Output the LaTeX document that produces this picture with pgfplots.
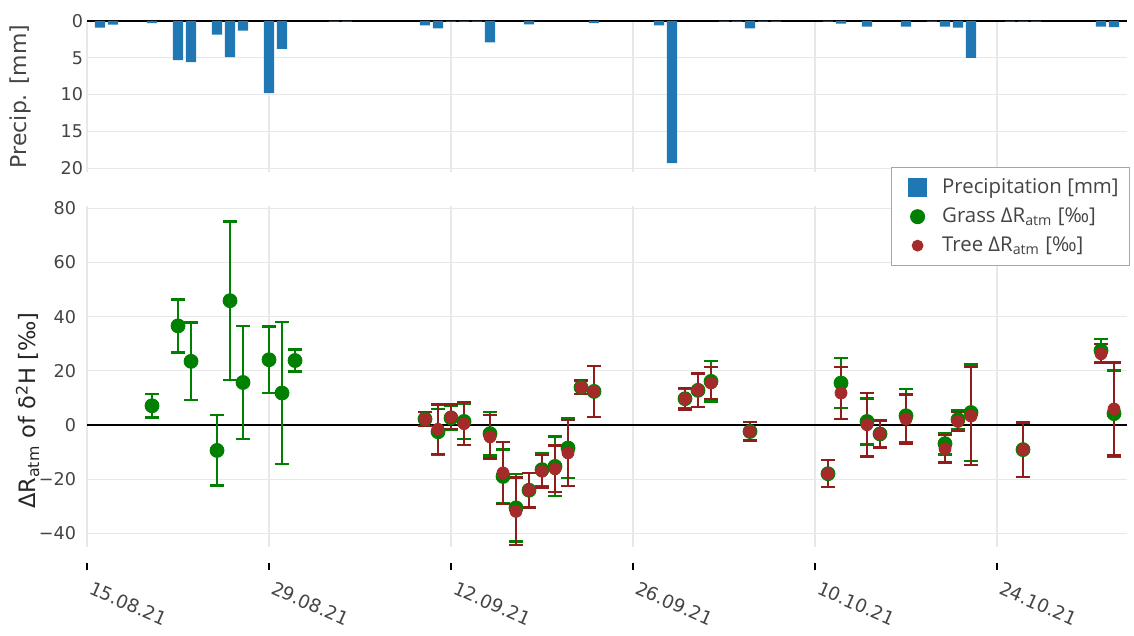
\documentclass[border=0pt]{standalone}
\usepackage{fontspec}
\setmainfont{DejaVu Sans}
\newfontfamily\legfont{Open Sans}
\usepackage{pgfplots}
\pgfplotsset{compat=1.18}
\usepackage{pgfplotstable}
\definecolor{precblue}{HTML}{1F77B4}
\definecolor{grassgreen}{HTML}{008000}
\definecolor{treered}{HTML}{A52A2A}
\definecolor{treeerr}{HTML}{901C1C}
\definecolor{ticktext}{HTML}{444444}
\definecolor{gridcol}{HTML}{E8E8E8}

\pgfplotstableread{
d p
1 0.9
2 0.5
5 0.3
7 5.3
8 5.6
10 1.85
11 4.9
12 1.3
14 9.8
15 3.8
19 0.1
20 0.1
26 0.6
27 1.0
28 0.1
29 0.1
30 0.1
31 2.9
34 0.45
39 0.3
44 0.6
45 19.3
49 0.1
50 0.1
51 1.0
52 0.1
53 0.1
57 0.1
58 0.35
60 0.75
63 0.75
65 0.1
66 0.75
67 0.9
68 5.0
71 0.1
72 0.1
73 0.1
78 0.75
79 0.85
}\precip

\pgfplotstableread{
d y e
5 7.1 4.3
7 36.6 9.8
8 23.5 14.3
10 -9.4 13
11 45.9 29.2
12 15.7 20.9
14 24.1 12.2
15 11.8 26.3
16 23.8 4.1
26 2.2 2.5
27 -2.5 8.4
28 2.6 4.5
29 1.3 6.5
31 -3.2 8.0
32 -19 10
33 -30.6 12.5
34 -24.1 6.4
35 -16.5 6
36 -15.3 11
37 -8.5 11
38 13.9 2.5
39 12.4 9.4
46 9.7 3.5
47 12.8 6.2
48 16.1 7.5
51 -2.4 3.4
57 -18 5
58 15.5 9.2
60 1.3 8.5
61 -3.3 5
63 3.4 9.9
66 -6.9 4
67 2.0 3.5
68 4.6 17.8
72 -9.1 10
78 27.5 4.2
79 4.2 15.9
}\grass

\pgfplotstableread{
d y e
26 2.2 2.5
27 -1.6 9.1
28 3.0 4.5
29 0.5 8
31 -4.4 8
32 -17.7 11.5
33 -31.9 12.5
34 -24.1 6.4
35 -17.1 6
36 -16.2 8.6
37 -10.3 12.2
38 13.9 2.5
39 12.4 9.4
46 9.7 4
47 12.8 6.2
48 15.5 5.9
51 -2.4 3.4
57 -18 5
58 11.8 9.6
60 0.1 11.7
61 -3.3 5
63 2.2 9
66 -8.8 5
67 1.3 3.5
68 3.3 18.1
72 -9.1 10
78 26.3 3.5
79 5.9 17.2
}\tree

\begin{document}
\begin{tikzpicture}
\pgfplotsset{
  base/.style={
    scale only axis, width=520.4pt, xmin=0, xmax=80,
    axis line style={draw=none},
    xtick={0,14,28,42,56,70},
    grid=major, major grid style={gridcol, line width=0.6pt},
    ytick style={draw=none},
    tick label style={font=\fontsize{8.8}{10}\selectfont, text=ticktext},
    yticklabel style={xshift=1.5pt},
    extra y ticks={0}, extra y tick labels={},
    extra y tick style={grid=major, major grid style={black, line width=0.8pt}, ytick style={draw=none}},
  }
}
\begin{axis}[base, at={(43.55pt,-10.5pt)}, anchor=north west, height=75.5pt,
  y dir=reverse, ymin=0, ymax=20.5, ytick={0,5,10,15,20},
  yticklabels={0,5,10,15,20},
  xticklabels={}, xtick style={draw=none},
  ybar, bar width=0.8,
  ylabel={Precip. [mm]},
  ylabel style={at={(rel axis cs:-0.0645,0.5)}, anchor=center, font=\fontsize{11}{12}\selectfont, text=ticktext},
]
\addplot[fill=precblue, draw=none] table[x=d,y=p]{\precip};
\end{axis}

\begin{axis}[base, at={(43.55pt,-102.9pt)}, anchor=north west, height=171pt,
  ymin=-45.2, ymax=81, ytick={-40,-20,0,20,40,60,80},
  yticklabels={−40,−20,0,20,40,60,80},
  xticklabels={15.08.21,29.08.21,12.09.21,26.09.21,10.10.21,24.10.21},
  xtick pos=left, tick align=outside, major tick length=3.5pt,
  xtick style={draw=black, line width=0.7pt, yshift=-8pt},
  xticklabel style={xshift=1.5pt, yshift=-8.5pt, rotate=-24, anchor=north west, font=\fontsize{9.2}{10}\selectfont},
  ylabel={ΔR\textsubscript{atm} of δ\textsuperscript{2}H [‰]},
  ylabel style={at={(rel axis cs:-0.057,0.40)}, anchor=center, font=\fontsize{11.3}{12}\selectfont, text=black!85},
  legend image code/.code={\path[draw=none] (0pt,0pt) -- (16.5pt,0pt); \draw[only marks,#1] plot coordinates {(11pt,0pt)};},
  legend style={at={(rel axis cs:1.003,1.112)}, anchor=north east, draw=gray!70, line width=0.5pt, fill=white,
    font=\legfont\fontsize{10.2}{11}\selectfont, text=ticktext, row sep=2.4pt, column sep=3.6pt,
    inner xsep=2.3pt, inner ysep=3.8pt,
    nodes={inner ysep=1.6pt, inner xsep=3.2pt}, cells={anchor=west}},
]
\addplot[only marks, mark=*, mark size=3.5pt, color=grassgreen, forget plot,
  error bars/.cd, y dir=both, y explicit,
  error bar style={line width=1.2pt, grassgreen},
  error mark options={rotate=90, line width=1.2pt, mark size=3.3pt, grassgreen}]
  table[x=d, y=y, y error=e]{\grass};
\addplot[only marks, mark=*, mark size=3pt, color=treered, forget plot,
  error bars/.cd, y dir=both, y explicit,
  error bar style={line width=1.2pt, treeerr},
  error mark options={rotate=90, line width=1.2pt, mark size=3.3pt, treeerr}]
  table[x=d, y=y, y error=e]{\tree};
\addlegendimage{only marks, mark=square*, mark size=4.5pt, precblue}
\addlegendentry{Precipitation [mm]}
\addlegendimage{only marks, mark=*, mark size=3.5pt, grassgreen}
\addlegendentry{Grass ΔR\textsubscript{atm} [‰]}
\addlegendimage{only marks, mark=*, mark size=2.7pt, treered}
\addlegendentry{Tree ΔR\textsubscript{atm} [‰]}
\end{axis}
\path (0pt,0pt) rectangle (567pt,-313.5pt);
\end{tikzpicture}
\end{document}
